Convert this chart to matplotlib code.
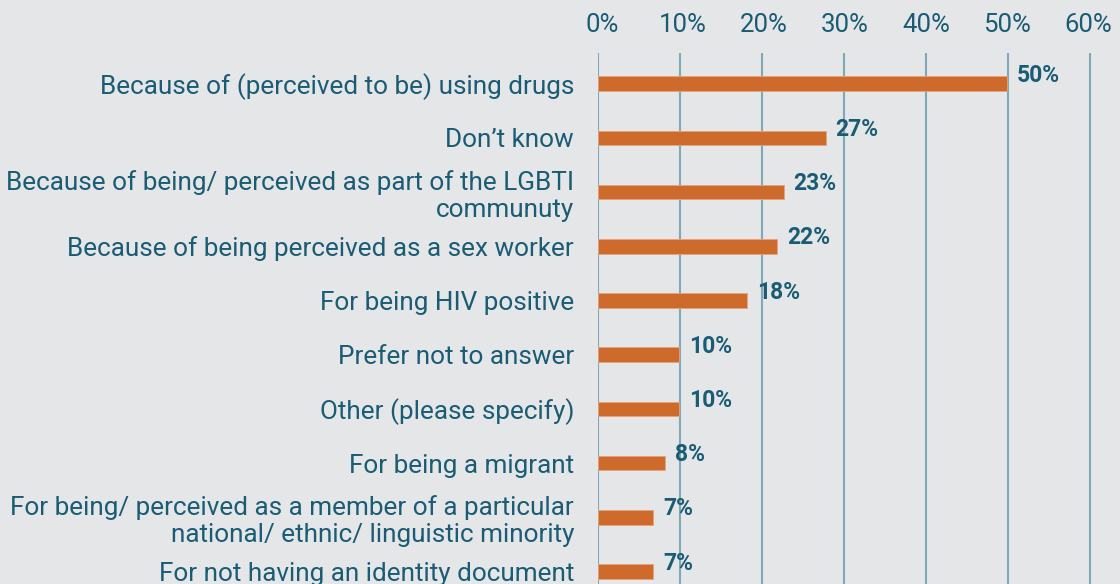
import matplotlib
matplotlib.use("Agg")
import matplotlib.pyplot as plt

# Reasons for being treated differently (share of respondents)
categories = [
    "Because of (perceived to be) using drugs",
    "Don\u2019t know",
    "Because of being/ perceived as part of the LGBTI\ncommunuty",
    "Because of being perceived as a sex worker",
    "For being HIV positive",
    "Prefer not to answer",
    "Other (please specify)",
    "For being a migrant",
    "For being/ perceived as a member of a particular\nnational/ ethnic/ linguistic minority",
    "For not having an identity document",
]
values = [49.9, 27.8, 22.7, 21.9, 18.2, 9.9, 9.9, 8.2, 6.8, 6.8]
value_labels = ["50%", "27%", "23%", "22%", "18%", "10%", "10%", "8%", "7%", "7%"]
ticks = [0, 10, 20, 30, 40, 50, 60]
tick_labels = ["0%", "10%", "20%", "30%", "40%", "50%", "60%"]

bg = "#E5E6E8"
text_col = "#1B5C75"
grid_col = "#7FA9B7"
bar_col = "#CD6A2C"

plt.rcParams["font.family"] = ["Roboto", "DejaVu Sans"]

fig = plt.figure(figsize=(11.2, 5.84), dpi=100, facecolor=bg)
px = 8.205 / 1120  # figure fraction per percent
ax = fig.add_axes([597.7 / 1120, 0, 61 * px, (584 - 53.3) / 584])
ax.set_facecolor(bg)

y = list(range(len(categories)))
ax.barh(y, values, height=0.27, color=bar_col, edgecolor="#E3A47C",
        linewidth=0.6, zorder=3)

for yi, v, lab in zip(y, values, value_labels):
    ax.annotate(lab, (v, yi), xytext=(7, 6), textcoords="offset points",
                ha="left", va="center", fontsize=16.5, fontweight="bold",
                color=text_col, zorder=4)

ax.set_xlim(0, 61)
ax.set_ylim(9.23, -0.56)
ax.set_xticks([])
ax.set_yticks(y)
ax.set_yticklabels(categories, linespacing=1.15)
ax.tick_params(axis="y", length=0, pad=17, labelsize=18.8, labelcolor=text_col)

for t in ticks:
    ax.axvline(t, color=grid_col, linewidth=1.5, zorder=1)

# the percentage scale on top sits on a slightly tighter spacing than the grid
top = ax.secondary_xaxis("top", functions=(lambda x: (8.205 * x - 4.3) / 8.1,
                                           lambda v: (8.1 * v + 4.3) / 8.205))
top.set_xticks(ticks)
top.set_xticklabels(tick_labels)
top.tick_params(length=0, pad=12, labelsize=18.5, labelcolor=text_col)
top.spines["top"].set_visible(False)

for s in ax.spines.values():
    s.set_visible(False)

fig.savefig("out.png", dpi=100, facecolor=bg)
